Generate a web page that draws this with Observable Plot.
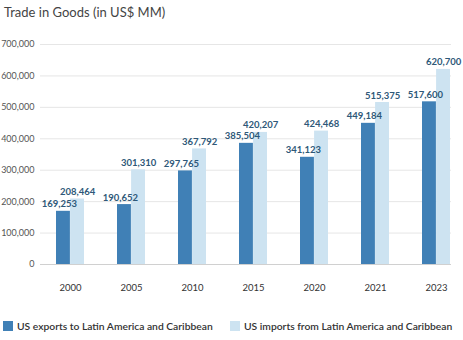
<!DOCTYPE html>
<html>
<head>
<meta charset="utf-8">
<script src="https://cdn.jsdelivr.net/npm/d3@7"></script>
<script src="https://cdn.jsdelivr.net/npm/@observablehq/plot@0.6"></script>
<style>
  html, body { margin: 0; padding: 0; background: #fff; }
  body { width: 463px; height: 340px; overflow: hidden; font-family: Lato, "Open Sans", sans-serif; }
  #title { height: 24px; line-height: 24px; padding-left: 4px; font-size: 13px; color: #444; }
  #legend { display: flex; padding-top: 21px; padding-left: 3px; font-size: 10.3px; color: #333; font-weight: 600; white-space: nowrap; }
  .item { display: flex; align-items: center; }
  .sw { width: 10px; height: 10px; margin-right: 4px; flex: none; }
</style>
</head>
<body>
<div id="title"></div>
<div id="chart"></div>
<div id="legend"></div>
<script>
const titleText = "Trade in Goods (in US$ MM)";
const years = ["2000", "2005", "2010", "2015", "2020", "2021", "2023"];
const exportsUS = [169253, 190652, 297765, 385504, 341123, 449184, 517600];
const importsUS = [208464, 301310, 367792, 420207, 424468, 515375, 620700];
const seriesNames = ["US exports to Latin America and Caribbean", "US imports from Latin America and Caribbean"];
const seriesColors = ["#4080b6", "#cde3f1"];
const yTicks = [0, 100000, 200000, 300000, 400000, 500000, 600000, 700000];

document.getElementById("title").textContent = titleText;

const exportRows = years.map((y, i) => ({year: y, value: exportsUS[i]}));
const importRows = years.map((y, i) => ({year: y, value: importsUS[i]}));

const width = 463;
const xRange = [55, 451];
const padInner = 0.54;
const step = (xRange[1] - xRange[0]) / (years.length - padInner);
const bw = step * (1 - padInner);
const half = bw / 2;
const fmt = d3.format(",");

const chart = Plot.plot({
  width,
  height: 275,
  marginLeft: 40,
  marginRight: 12,
  marginTop: 20,
  marginBottom: 35,
  style: {fontFamily: "Lato, 'Open Sans', sans-serif", background: "#fff"},
  x: {domain: years, range: xRange, paddingInner: padInner, paddingOuter: 0, label: null},
  y: {domain: [0, 700000], label: null},
  marks: [
    Plot.gridY(yTicks, {stroke: "#e6e6e6", strokeOpacity: 1}),
    Plot.axisY(yTicks, {tickSize: 0, tickPadding: 6, tickFormat: d => fmt(d), fontSize: 9, fill: "#555", label: null}),
    Plot.axisX({tickSize: 0, tickPadding: 20, fontSize: 9.5, fill: "#333", label: null, style: {letterSpacing: "1px"}}),
    Plot.barY(exportRows, {x: "year", y: "value", fill: seriesColors[0], insetRight: half}),
    Plot.barY(importRows, {x: "year", y: "value", fill: seriesColors[1], insetLeft: half}),
    Plot.ruleY([0], {stroke: "#d0d0d0", strokeWidth: 1.2}),
    Plot.text(exportRows, {x: "year", y: "value", text: d => fmt(d.value), dx: -half / 2 - 4, dy: -7, fill: "#2e5878", fontWeight: "bold", fontSize: 9.5}),
    Plot.text(importRows, {x: "year", y: "value", text: d => fmt(d.value), dx: half / 2, dy: -7, fill: "#2e5878", fontWeight: "bold", fontSize: 9.5})
  ]
});
document.getElementById("chart").appendChild(chart);

const legend = document.getElementById("legend");
seriesNames.forEach((name, i) => {
  const it = document.createElement("div");
  it.className = "item";
  if (i === 0) it.style.width = "227px";
  const sw = document.createElement("div");
  sw.className = "sw";
  sw.style.background = seriesColors[i];
  const tx = document.createElement("span");
  tx.textContent = name;
  it.appendChild(sw);
  it.appendChild(tx);
  legend.appendChild(it);
});
</script>
</body>
</html>
